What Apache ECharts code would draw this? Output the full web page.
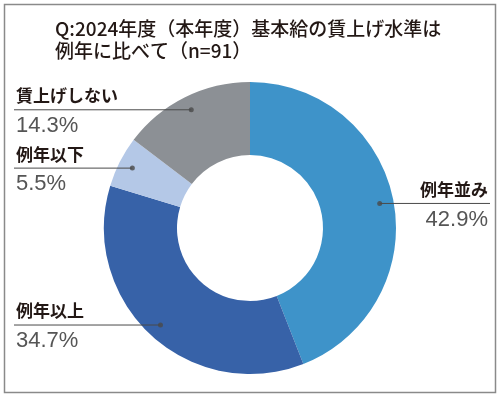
<!DOCTYPE html>
<html>
<head>
<meta charset="utf-8">
<script src="https://cdn.jsdelivr.net/npm/echarts@6/dist/echarts.min.js"></script>
<style>
  html, body { margin: 0; padding: 0; background: #fff; }
  #main { width: 502px; height: 398px; }
</style>
</head>
<body>
<div id="main"></div>
<script>
// data
const categories = ['例年並み', '例年以上', '例年以下', '賃上げしない'];
const shares = [42.9, 34.7, 5.5, 14.3];
const colors = ['#3e93c9', '#3762a8', '#b4c8e7', '#8c9095'];

const CENTER = [250, 228];
const R_IN = 73, R_OUT = 146, R_DOT = 132;

const total = shares.reduce((a, b) => a + b, 0);
// mid angle of each slice (in data units) for the leader-line dots
let acc = 0;
const dotData = shares.map(v => { const m = acc + v / 2; acc += v; return [R_DOT, m]; });

const chart = echarts.init(document.getElementById('main'), null, { renderer: 'canvas' });

const option = {
  animation: false,
  backgroundColor: '#fff',
  title: {
    text: 'Q:2024年度（本年度）基本給の賃上げ水準は\n例年に比べて（n=91）',
    left: 55,
    top: 18,
    padding: 0,
    textStyle: {
      fontFamily: 'Noto Sans CJK JP',
      fontSize: 19,
      fontWeight: 500,
      color: '#231815',
      lineHeight: 22
    }
  },
  graphic: [{
    type: 'rect',
    shape: { x: 4.5, y: 4.5, width: 491, height: 388 },
    style: { fill: 'none', stroke: '#8a8a8a', lineWidth: 1.5 },
    silent: true
  }],
  polar: { center: CENTER, radius: R_OUT },
  angleAxis: { type: 'value', min: 0, max: total, startAngle: 90, show: false },
  radiusAxis: { type: 'value', min: 0, max: R_OUT, show: false },
  series: [
    {
      type: 'pie',
      center: CENTER,
      radius: [R_IN, R_OUT],
      startAngle: 90,
      silent: true,
      label: { show: false },
      labelLine: { show: false },
      emphasis: { disabled: true },
      itemStyle: { borderWidth: 0 },
      data: categories.map((c, i) => ({ name: c, value: shares[i], itemStyle: { color: colors[i] } }))
    },
    {
      // invisible ring carrying the labels; its outer edge is where the dots sit
      type: 'pie',
      center: CENTER,
      radius: [0, R_DOT],
      startAngle: 90,
      silent: true,
      z: 5,
      emphasis: { disabled: true },
      itemStyle: { color: 'rgba(0,0,0,0)' },
      label: {
        show: true,
        position: 'outside',
        formatter: p => '{n|' + p.name + '}\n{v|' + p.value.toFixed(1) + '%}',
        rich: {
          n: { fontFamily: 'Noto Sans CJK JP', fontSize: 17, fontWeight: 'bold', color: '#231815', lineHeight: 28 },
          v: { fontFamily: 'Liberation Sans', fontSize: 22, color: '#555555', lineHeight: 32 }
        }
      },
      labelLine: { show: true, length: 0, length2: 10, lineStyle: { color: '#4a4a4a', width: 1 } },
      labelLayout: function (p) {
        const pts = p.labelLinePoints;
        if (!pts) return {};
        const s = pts[0];
        const right = s[0] > CENTER[0];
        const edge = right ? 490 : 14;
        return {
          x: right ? 488 : 16,
          y: s[1] - 28,
          align: right ? 'right' : 'left',
          verticalAlign: 'top',
          labelLinePoints: [s, [edge, s[1]], [edge, s[1]]]
        };
      },
      data: categories.map((c, i) => ({ name: c, value: shares[i] }))
    },
    {
      type: 'scatter',
      coordinateSystem: 'polar',
      symbol: 'circle',
      symbolSize: 5,
      silent: true,
      z: 6,
      itemStyle: { color: '#4a4a4a' },
      data: dotData
    }
  ]
};

chart.setOption(option);
</script>
</body>
</html>
